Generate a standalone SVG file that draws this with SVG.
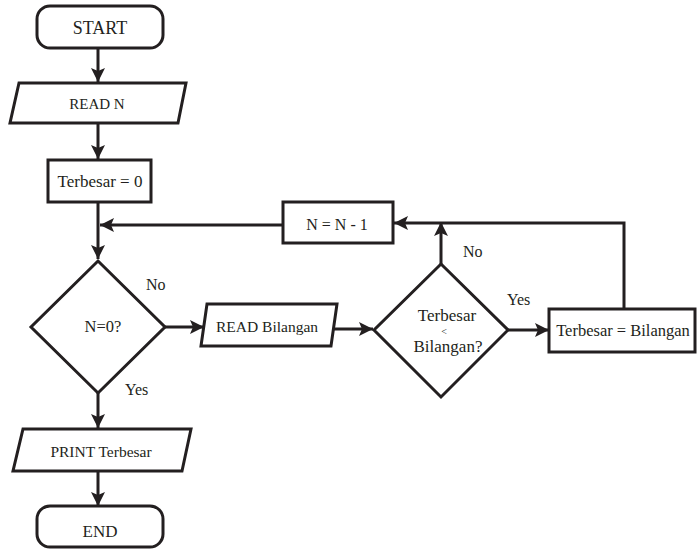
<svg xmlns="http://www.w3.org/2000/svg" width="697" height="549" viewBox="0 0 697 549">
<defs>
<style>
.s{fill:#fff;stroke:#231f20;stroke-width:3}
.t{font-family:"Liberation Serif","DejaVu Serif",serif;font-size:16px;fill:#231f20;text-anchor:middle}
.l{font-family:"Liberation Serif","DejaVu Serif",serif;font-size:16px;fill:#231f20}
.c{fill:none;stroke:#231f20;stroke-width:3}
</style>
<marker id="ah" markerUnits="userSpaceOnUse" markerWidth="15" markerHeight="14" refX="14" refY="7" orient="auto">
<path d="M0,0 L14,7 L0,14 L3,7 Z" fill="#231f20"/>
</marker>
</defs>
<rect width="697" height="549" fill="#fff"/>
<g id="connectors">
<line class="c" x1="98" y1="48" x2="98" y2="82" marker-end="url(#ah)"/>
<line class="c" x1="98" y1="123" x2="98" y2="159" marker-end="url(#ah)"/>
<line class="c" x1="98" y1="202" x2="98" y2="259" marker-end="url(#ah)"/>
<line class="c" x1="283" y1="225" x2="100" y2="225" marker-end="url(#ah)"/>
<line class="c" x1="165" y1="327" x2="204" y2="327" marker-end="url(#ah)"/>
<line class="c" x1="331" y1="329" x2="373" y2="329" marker-end="url(#ah)"/>
<line class="c" x1="508" y1="330" x2="549" y2="330" marker-end="url(#ah)"/>
<line class="c" x1="441" y1="264" x2="441" y2="222" marker-end="url(#ah)"/>
<polyline class="c" points="624,309 624,223 394,223" marker-end="url(#ah)"/>
<line class="c" x1="98" y1="393" x2="98" y2="428" marker-end="url(#ah)"/>
<line class="c" x1="98" y1="471" x2="98" y2="506" marker-end="url(#ah)"/>
<text class="l" x="146" y="290">No</text>
<text class="l" x="125" y="395">Yes</text>
<text class="l" x="463" y="257">No</text>
<text class="l" x="507" y="305">Yes</text>
</g>
<g id="start">
<rect class="s" x="37" y="6" width="126" height="42" rx="13"/>
<text class="t" x="100" y="34" style="font-size:18px">START</text>
</g>
<g id="readN">
<polygon class="s" points="19,83 186,83 178,123 10,123"/>
<text class="t" x="97" y="109" style="font-size:15px">READ N</text>
</g>
<g id="init">
<rect class="s" x="48" y="160" width="103" height="42"/>
<text class="t" x="100" y="187" style="font-size:17px">Terbesar = 0</text>
</g>
<g id="decN">
<rect class="s" x="283" y="202" width="110" height="41"/>
<text class="t" x="337" y="230">N = N - 1</text>
</g>
<g id="checkN">
<polygon class="s" points="98,261 165,327 98,393 31,327"/>
<text class="t" x="103" y="332" style="font-size:16.5px">N=0?</text>
</g>
<g id="readB">
<polygon class="s" points="207,304 337,304 331,346 201,346"/>
<text class="t" x="267" y="332" style="font-size:15.5px">READ Bilangan</text>
</g>
<g id="compare">
<polygon class="s" points="441,264 508,330 441,397 374,330"/>
<text class="t" x="447" y="321" style="font-size:17px">Terbesar</text>
<text class="t" x="444" y="335" style="font-size:10px">&lt;</text>
<text class="t" x="448" y="352" style="font-size:17px">Bilangan?</text>
</g>
<g id="assign">
<rect class="s" x="549" y="309" width="146" height="43"/>
<text class="t" x="623" y="336" style="font-size:16.5px">Terbesar = Bilangan</text>
</g>
<g id="print">
<polygon class="s" points="23,429 191,429 182,471 13,471"/>
<text class="t" x="101" y="457" style="font-size:15.5px">PRINT Terbesar</text>
</g>
<g id="end">
<rect class="s" x="37" y="506" width="126" height="41" rx="13"/>
<text class="t" x="100" y="537" style="font-size:17px">END</text>
</g>
</svg>
